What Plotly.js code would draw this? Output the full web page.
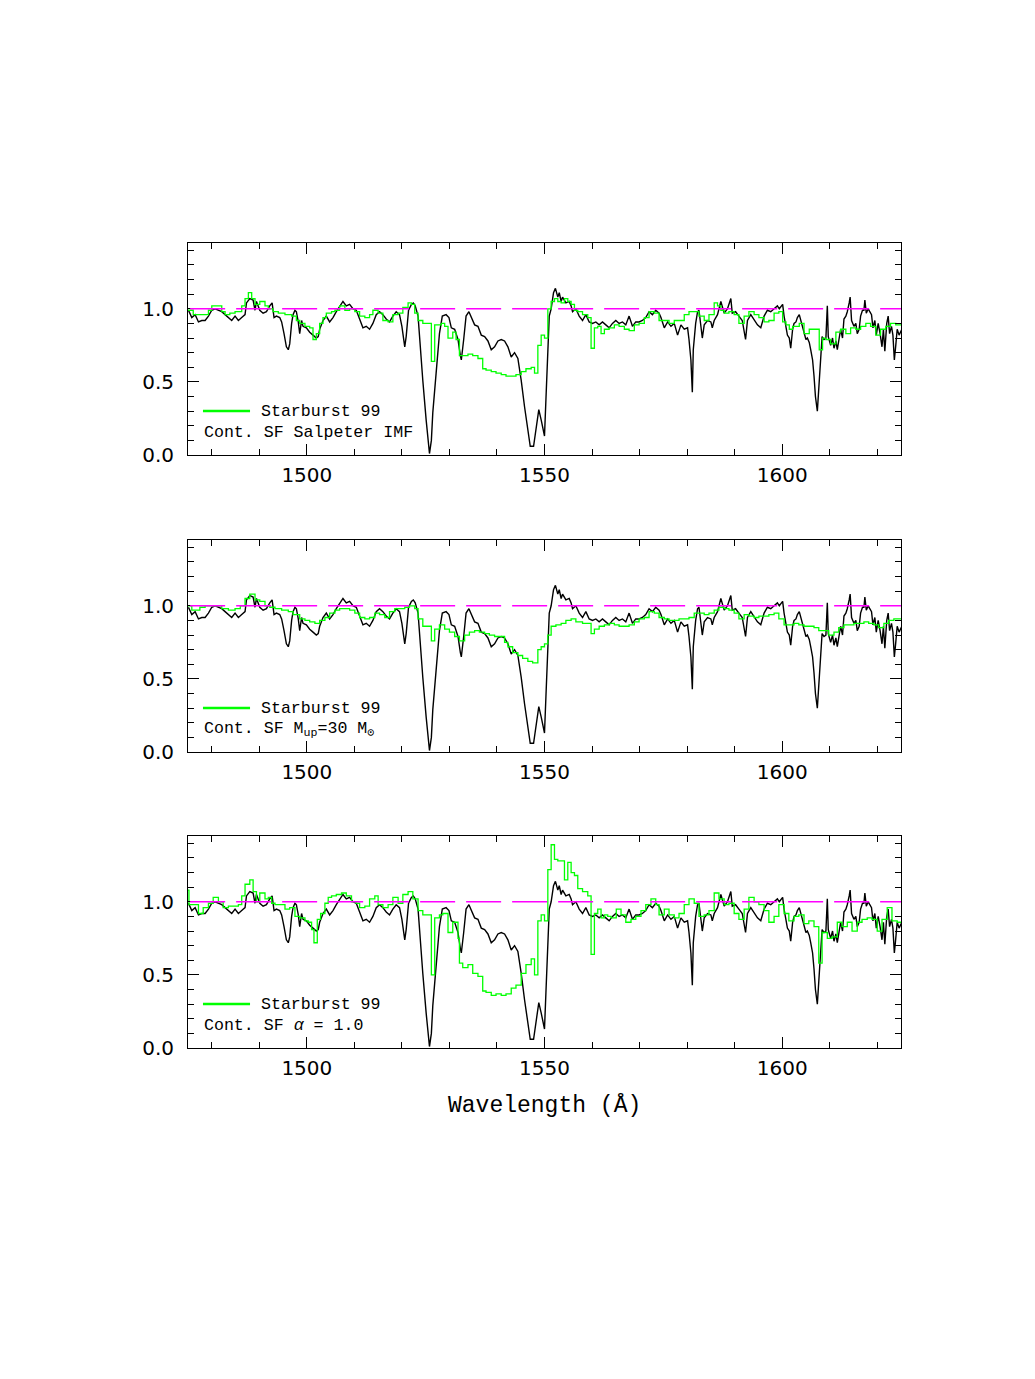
<!DOCTYPE html>
<html><head><meta charset="utf-8">
<script src="https://cdn.plot.ly/plotly-3.0.1.min.js"></script>
<style>body{margin:0;background:#fff}#chart{width:1035px;height:1379px}</style>
</head><body><div id="chart"></div><script>
// Observed spectrum (black)
const obsWave = [1475.1,1475.8,1476.5,1477.2,1477.9,1478.6,1479.3,1480.0,1480.7,1481.4,1482.1,1482.8,1483.5,1484.2,1484.9,1485.6,1486.3,1487.0,1487.3,1488.0,1488.7,1489.1,1489.4,1490.1,1490.8,1491.5,1492.2,1492.7,1493.1,1493.6,1494.3,1494.7,1495.2,1495.7,1496.1,1496.4,1496.8,1497.1,1497.5,1497.8,1498.2,1498.5,1498.9,1499.2,1499.9,1500.6,1501.3,1502.0,1502.4,1502.7,1503.4,1504.1,1504.8,1505.5,1506.2,1506.9,1507.6,1508.3,1509.0,1509.7,1510.4,1511.1,1511.8,1512.5,1513.2,1513.9,1514.6,1515.3,1516.0,1516.7,1517.4,1518.1,1518.8,1519.5,1520.0,1520.6,1520.9,1521.4,1522.0,1522.4,1522.8,1523.4,1523.7,1524.1,1524.4,1525.1,1525.8,1526.2,1526.5,1527.2,1527.9,1528.5,1529.3,1529.9,1530.4,1531.1,1531.8,1532.3,1532.5,1533.0,1533.5,1534.1,1534.6,1535.3,1536.0,1536.7,1537.4,1538.1,1538.8,1539.5,1540.2,1540.9,1541.6,1542.3,1543.0,1543.7,1544.4,1544.7,1545.1,1545.8,1546.5,1547.0,1547.7,1548.2,1548.8,1549.3,1550.0,1550.3,1550.7,1551.0,1551.4,1551.9,1552.3,1552.8,1553.1,1553.5,1553.8,1554.5,1555.2,1555.6,1555.9,1556.6,1557.3,1558.0,1558.7,1559.4,1560.1,1560.8,1561.5,1562.2,1562.9,1563.6,1564.3,1565.0,1565.7,1566.4,1567.1,1567.8,1568.5,1569.2,1569.9,1570.6,1571.3,1572.0,1572.7,1573.4,1574.1,1574.5,1575.2,1575.9,1576.6,1577.3,1578.0,1578.7,1579.4,1580.1,1580.4,1580.8,1581.1,1581.3,1581.8,1582.2,1582.5,1582.9,1583.2,1583.6,1584.3,1585.0,1585.3,1585.7,1586.4,1587.1,1587.4,1587.8,1588.5,1589.2,1589.5,1590.2,1590.9,1591.6,1592.3,1592.7,1593.4,1594.1,1594.8,1595.5,1596.2,1596.9,1597.6,1598.3,1599.0,1599.4,1600.1,1600.4,1600.8,1601.1,1601.5,1601.8,1602.2,1602.5,1602.9,1603.2,1603.6,1603.9,1604.3,1604.6,1605.0,1605.3,1605.7,1606.0,1606.4,1606.7,1607.0,1607.4,1607.7,1608.1,1608.4,1608.8,1609.2,1609.5,1609.7,1610.2,1610.6,1610.9,1611.3,1611.6,1612.0,1612.3,1612.7,1613.0,1613.4,1613.7,1614.1,1614.3,1614.6,1615.1,1615.5,1615.8,1616.2,1616.5,1616.9,1617.2,1617.4,1617.7,1618.1,1618.4,1618.8,1619.1,1619.5,1619.8,1620.2,1620.6,1621.0,1621.3,1621.6,1622.0,1622.3,1622.6,1623.0,1623.3,1623.6,1623.9,1624.2,1624.6,1625.2];
const obsFlux = [0.99,0.94,0.96,0.91,0.92,0.92,0.95,0.99,1.00,0.99,0.98,0.96,0.94,0.92,0.95,0.92,0.94,0.96,1.04,1.07,1.06,0.99,1.05,0.99,0.97,0.98,1.02,1.04,0.94,0.95,0.94,0.91,0.83,0.74,0.72,0.76,0.90,0.96,0.99,0.98,0.91,0.83,0.92,0.88,0.87,0.84,0.82,0.80,0.81,0.86,0.92,0.95,0.91,0.94,0.98,1.02,1.05,1.02,1.03,1.00,0.99,0.93,0.87,0.88,0.86,0.90,0.96,0.98,0.96,0.93,0.91,0.95,0.98,0.96,0.88,0.74,0.81,0.99,1.03,1.04,1.02,0.95,0.81,0.67,0.51,0.24,0.01,0.10,0.29,0.56,0.83,0.95,0.96,0.94,0.87,0.86,0.79,0.68,0.65,0.79,0.95,0.98,0.94,0.89,0.88,0.82,0.81,0.78,0.72,0.74,0.78,0.79,0.78,0.74,0.67,0.70,0.66,0.60,0.51,0.33,0.15,0.06,0.06,0.19,0.31,0.24,0.13,0.38,0.67,0.95,1.00,1.11,1.14,1.08,1.11,1.05,1.08,1.04,1.05,1.02,0.98,1.00,0.95,0.92,0.96,0.91,0.90,0.91,0.89,0.91,0.89,0.87,0.90,0.92,0.90,0.91,0.89,0.95,0.88,0.91,0.91,0.92,0.94,0.98,0.96,0.99,0.97,0.94,0.87,0.91,0.88,0.90,0.82,0.89,0.86,0.87,0.79,0.65,0.43,0.72,0.90,0.98,0.99,0.90,0.80,0.89,0.92,0.91,0.87,0.92,0.96,1.05,1.02,0.97,1.00,1.07,0.97,0.98,0.95,0.92,0.79,0.92,0.96,0.92,0.89,0.87,0.95,0.99,0.98,1.00,1.02,1.00,1.03,0.95,0.88,0.82,0.80,0.73,0.86,0.90,0.91,0.94,0.96,0.92,0.88,0.83,0.79,0.80,0.77,0.72,0.65,0.54,0.40,0.30,0.47,0.67,0.81,0.79,0.80,1.02,0.81,0.75,0.80,0.73,0.78,0.72,0.81,0.86,0.80,0.93,0.95,0.98,1.04,1.08,0.92,0.88,0.90,0.83,0.86,0.95,0.99,0.99,1.06,0.97,1.00,0.98,0.96,0.87,0.92,0.82,0.90,0.83,0.74,0.86,0.71,0.90,0.95,0.83,0.88,0.82,0.65,0.75,0.86,0.82,0.86];

// Starburst 99, continuous SF, Salpeter IMF (step starts)
const salpWave = [1475.0,1476.1,1479.3,1480.0,1482.1,1482.8,1483.8,1484.9,1486.3,1487.0,1487.7,1488.4,1489.1,1490.1,1491.2,1491.9,1492.9,1494.0,1495.4,1496.8,1497.8,1498.5,1499.6,1500.6,1501.3,1502.0,1502.7,1503.4,1504.1,1505.2,1505.9,1506.9,1508.0,1509.0,1510.1,1511.1,1512.2,1513.2,1513.9,1515.0,1516.0,1517.1,1518.1,1519.2,1520.2,1521.3,1522.0,1522.7,1523.4,1524.4,1526.2,1526.9,1528.3,1529.0,1529.7,1530.7,1531.4,1532.1,1533.9,1534.9,1536.0,1537.0,1537.7,1538.8,1539.8,1540.9,1541.9,1544.0,1545.1,1546.1,1547.2,1547.9,1548.6,1549.3,1550.0,1550.7,1551.4,1552.1,1552.8,1553.5,1554.2,1554.9,1555.6,1556.3,1557.0,1558.0,1559.1,1559.8,1560.5,1561.2,1561.9,1562.6,1563.6,1564.7,1565.7,1566.8,1567.8,1568.9,1569.9,1571.0,1572.0,1573.1,1574.1,1576.2,1577.3,1579.4,1580.4,1582.5,1583.6,1584.6,1585.7,1586.4,1587.1,1587.8,1588.8,1589.9,1590.9,1592.0,1593.0,1594.1,1595.1,1596.2,1597.2,1598.3,1599.3,1600.1,1600.8,1601.5,1602.2,1603.6,1604.6,1605.7,1606.7,1607.8,1608.5,1609.2,1610.2,1611.3,1612.3,1613.4,1614.4,1615.5,1616.5,1617.6,1618.6,1619.7,1620.7,1621.8,1622.8,1623.9];
const salpFlux = [0.99,0.96,0.99,1.02,0.98,0.96,0.97,0.98,1.02,1.07,1.11,1.07,1.03,1.05,1.02,1.00,0.98,0.97,0.96,0.95,0.92,0.90,0.88,0.87,0.79,0.83,0.90,0.94,0.97,0.98,0.99,1.02,0.99,1.00,0.98,0.95,0.94,0.96,0.99,0.97,0.92,0.91,0.96,0.97,1.01,1.04,1.03,0.97,0.92,0.90,0.64,0.89,0.90,0.88,0.80,0.84,0.79,0.68,0.69,0.68,0.66,0.59,0.58,0.57,0.56,0.55,0.54,0.55,0.57,0.59,0.60,0.56,0.75,0.82,0.80,1.00,1.05,1.07,1.05,1.04,1.07,1.05,1.03,0.99,0.98,0.96,0.94,0.73,0.87,0.88,0.83,0.86,0.87,0.89,0.88,0.86,0.85,0.89,0.90,0.94,0.98,0.97,0.92,0.90,0.92,0.96,0.98,0.95,0.92,0.96,1.04,1.02,0.99,0.97,0.98,0.96,0.90,0.95,0.98,0.96,0.94,0.91,0.92,0.97,0.98,0.91,0.89,0.86,0.88,0.90,0.83,0.86,0.86,0.72,0.80,0.79,0.76,0.84,0.86,0.83,0.87,0.86,0.88,0.90,0.88,0.82,0.86,0.88,0.90,0.89];

// Starburst 99, continuous SF, M_up = 30 Msun
const mupWave = [1475.0,1475.8,1477.5,1478.6,1482.1,1483.5,1484.9,1486.0,1487.0,1488.0,1489.1,1490.1,1491.2,1492.2,1493.3,1494.7,1496.1,1497.1,1498.5,1499.6,1500.6,1501.7,1502.7,1503.8,1504.8,1505.9,1506.9,1508.0,1509.0,1510.1,1511.1,1512.2,1513.2,1514.3,1515.3,1516.4,1517.4,1518.5,1519.5,1520.6,1521.6,1522.7,1523.4,1524.4,1526.2,1526.9,1527.9,1529.0,1530.0,1531.1,1532.1,1533.2,1534.2,1535.3,1536.3,1537.4,1538.4,1539.5,1540.5,1541.6,1542.3,1543.3,1544.4,1545.4,1546.5,1547.5,1548.6,1549.3,1550.0,1550.7,1551.4,1552.4,1553.5,1554.5,1555.6,1556.6,1558.0,1559.8,1560.5,1561.5,1562.6,1563.6,1564.7,1565.7,1566.8,1567.8,1568.9,1569.9,1571.0,1572.0,1573.1,1574.1,1575.2,1576.2,1578.3,1579.4,1580.4,1581.5,1582.5,1583.6,1584.6,1585.7,1586.7,1587.8,1588.8,1589.9,1590.9,1592.0,1593.0,1594.1,1595.1,1596.2,1597.2,1598.3,1599.3,1600.4,1601.4,1602.5,1603.5,1604.6,1605.6,1606.7,1607.7,1608.8,1609.8,1610.9,1611.9,1613.0,1614.0,1615.1,1617.2,1618.2,1619.3,1620.3,1621.4,1622.4,1623.5];
const mupFlux = [1.00,0.97,0.99,1.00,0.98,0.97,0.98,1.00,1.05,1.08,1.04,1.03,1.00,0.99,0.98,0.97,0.96,0.94,0.91,0.90,0.89,0.88,0.90,0.92,0.95,0.97,0.98,0.98,0.97,0.95,0.92,0.91,0.92,0.95,0.94,0.92,0.96,0.98,0.98,0.99,1.00,0.98,0.91,0.86,0.76,0.84,0.87,0.84,0.82,0.79,0.76,0.80,0.82,0.83,0.82,0.81,0.80,0.79,0.79,0.75,0.72,0.68,0.66,0.64,0.62,0.61,0.70,0.72,0.74,0.80,0.86,0.87,0.88,0.90,0.91,0.89,0.88,0.81,0.84,0.86,0.87,0.88,0.87,0.86,0.86,0.87,0.89,0.91,0.92,0.96,0.95,0.92,0.91,0.90,0.91,0.91,0.92,0.95,0.95,0.94,0.95,0.97,0.99,0.98,0.97,0.95,0.91,0.94,0.93,0.92,0.93,0.93,0.94,0.95,0.91,0.87,0.87,0.88,0.87,0.86,0.86,0.85,0.83,0.83,0.80,0.82,0.85,0.87,0.87,0.88,0.89,0.88,0.87,0.85,0.88,0.90,0.91];

// Starburst 99, continuous SF, alpha = 1.0
const alphaWave = [1475.0,1475.2,1476.1,1477.2,1478.2,1479.3,1480.3,1481.4,1482.4,1483.5,1485.6,1486.3,1487.0,1488.0,1488.7,1489.4,1490.1,1491.2,1491.9,1492.6,1493.3,1495.4,1496.4,1497.5,1498.5,1499.6,1500.3,1501.0,1501.5,1502.2,1502.9,1503.8,1504.5,1505.2,1506.2,1507.3,1508.3,1509.4,1510.4,1511.1,1512.2,1513.2,1514.3,1515.0,1516.0,1517.1,1518.1,1519.2,1520.2,1521.3,1522.3,1523.4,1524.4,1526.2,1526.9,1527.9,1528.6,1529.7,1530.7,1531.8,1532.1,1532.8,1533.9,1534.9,1536.0,1537.0,1537.7,1538.8,1539.8,1540.9,1541.9,1543.0,1544.0,1545.1,1546.1,1547.2,1547.9,1548.6,1549.3,1550.0,1550.7,1551.4,1552.1,1552.8,1554.2,1554.9,1555.6,1556.3,1557.0,1558.0,1559.1,1559.8,1560.5,1561.2,1561.9,1562.6,1563.3,1564.0,1565.1,1566.1,1567.1,1568.2,1569.2,1570.3,1571.3,1572.4,1573.4,1574.1,1575.2,1576.2,1577.3,1578.3,1579.4,1580.4,1581.5,1582.5,1583.6,1584.6,1585.7,1586.7,1587.8,1588.8,1589.9,1590.9,1592.0,1593.0,1594.1,1595.1,1596.2,1597.2,1598.3,1599.3,1600.4,1601.4,1602.5,1603.5,1604.6,1605.6,1606.7,1607.7,1608.4,1609.5,1610.5,1611.6,1612.6,1613.7,1614.7,1615.8,1616.8,1617.9,1618.9,1620.0,1621.0,1622.1,1623.1,1624.2];
const alphaFlux = [1.08,0.98,0.98,0.92,0.96,0.99,1.03,1.00,0.96,0.97,0.98,1.04,1.12,1.15,1.07,1.00,1.06,1.02,1.03,0.99,0.98,0.95,0.96,0.90,0.89,0.87,0.86,0.81,0.72,0.88,0.92,0.99,1.03,1.04,1.05,1.06,1.04,1.00,0.99,0.96,0.97,1.02,1.04,0.98,0.96,0.98,1.03,0.99,1.05,1.07,1.02,0.94,0.91,0.50,0.89,0.91,0.92,0.79,0.86,0.75,0.58,0.55,0.57,0.51,0.49,0.39,0.38,0.36,0.37,0.36,0.37,0.41,0.43,0.51,0.57,0.61,0.50,0.87,0.91,0.87,1.22,1.39,1.29,1.28,1.15,1.27,1.20,1.18,1.09,1.07,1.04,0.64,0.92,0.95,0.89,0.91,0.90,0.89,0.95,0.91,0.86,0.88,0.90,0.94,0.98,1.02,0.98,0.91,0.95,0.91,0.89,0.92,0.98,1.02,0.99,0.90,0.91,0.94,1.06,1.02,0.98,0.99,0.92,0.88,0.95,1.03,1.00,0.98,0.94,0.86,0.90,0.98,0.92,0.87,0.90,0.91,0.85,0.87,0.83,0.58,0.79,0.75,0.76,0.86,0.83,0.86,0.80,0.86,0.88,0.89,0.88,0.80,0.88,0.96,0.87,0.86];

const xTicks = [1500, 1550, 1600];
const yTicks = [0.0, 0.5, 1.0];
const xRange = [1475, 1625];
const yRange = [0, 1.45];
const continuumLevel = 1.0;
const legendLine1 = 'Starburst 99';
const legendLine2 = ['Cont. SF Salpeter IMF', 'Cont. SF M<sub>up</sub>=30 M<sub>⊙</sub>', 'Cont. SF <i>α</i> = 1.0'];
const models = [[salpWave, salpFlux], [mupWave, mupFlux], [alphaWave, alphaFlux]];
const xTitle = 'Wavelength (Å)';

const W = 1035, H = 1379;
const xDom = [188 / W, 901 / W];
const panelPx = [[243, 455], [540, 752], [836, 1048]];
const traces = [], shapes = [], annotations = [];
const layout = {
  width: W, height: H, margin: {l: 0, r: 0, t: 0, b: 0},
  paper_bgcolor: '#fff', plot_bgcolor: '#fff', showlegend: false,
  shapes: shapes, annotations: annotations
};
const tickFont = {family: 'DejaVu Sans', size: 20, color: '#000'};
const monoFam = 'Liberation Mono, DejaVu Sans Mono, monospace';
const textFont = {family: monoFam, size: 16.6, color: '#000'};

panelPx.forEach((p, i) => {
  const n = i + 1, sfx = n === 1 ? '' : String(n);
  const xa = 'x' + sfx, ya = 'y' + sfx;
  layout['xaxis' + sfx] = {
    domain: xDom, range: xRange, anchor: ya, showgrid: false, zeroline: false,
    showline: true, linecolor: '#000', linewidth: 1, mirror: 'allticks',
    ticks: 'inside', ticklen: 11, tickwidth: 1, tickcolor: '#000',
    tickvals: xTicks, ticktext: xTicks.map(String), tickfont: tickFont, ticklabelstandoff: 2,
    minor: {ticks: 'inside', dtick: 10, tick0: 1480, ticklen: 6, tickwidth: 1, tickcolor: '#000', showgrid: false}
  };
  layout['yaxis' + sfx] = {
    domain: [(H - p[1]) / H, (H - p[0]) / H], range: yRange, anchor: xa,
    showgrid: false, zeroline: false, showline: true, linecolor: '#000', linewidth: 1, mirror: 'allticks',
    ticks: 'inside', ticklen: 11, tickwidth: 1, tickcolor: '#000',
    tickvals: yTicks, ticktext: yTicks.map(v => v.toFixed(1)), tickfont: tickFont, ticklabelstandoff: 9,
    minor: {ticks: 'inside', dtick: 0.1, tick0: 0, ticklen: 6, tickwidth: 1, tickcolor: '#000', showgrid: false}
  };
  traces.push({x: obsWave, y: obsFlux, xaxis: xa, yaxis: ya, mode: 'lines',
    line: {color: '#000', width: 1.4}, hoverinfo: 'skip'});
  const mw = models[i][0].concat([xRange[1]]);
  const mf = models[i][1].concat([models[i][1][models[i][1].length - 1]]);
  traces.push({x: mw, y: mf, xaxis: xa, yaxis: ya, mode: 'lines',
    line: {color: '#00ff00', width: 1.3, shape: 'hv'}, hoverinfo: 'skip'});
  shapes.push({type: 'line', xref: xa + ' domain', yref: ya, x0: 0.003, x1: 1, y0: continuumLevel, y1: continuumLevel,
    line: {color: '#ff00ff', width: 1.5, dash: '35px,11px'}, layer: 'above'});
  shapes.push({type: 'line', xref: xa + ' domain', yref: ya + ' domain', x0: 0.021, x1: 0.087, y0: 0.2075, y1: 0.2075,
    line: {color: '#00ff00', width: 2.5}, layer: 'above'});
  annotations.push({xref: xa + ' domain', yref: ya + ' domain', x: 0.099, y: 0.2075, xanchor: 'left', yanchor: 'middle',
    text: legendLine1, showarrow: false, font: textFont});
  annotations.push({xref: xa + ' domain', yref: ya + ' domain', x: 0.019, y: 0.108, xanchor: 'left', yanchor: 'middle',
    text: legendLine2[i], showarrow: false, font: textFont});
});
annotations.push({xref: 'paper', yref: 'paper', x: 544.5 / W, y: (H - 1105) / H, xanchor: 'center', yanchor: 'middle',
  text: xTitle, showarrow: false, font: {family: monoFam, size: 23, color: '#000'}});

Plotly.newPlot('chart', traces, layout, {staticPlot: true, displayModeBar: false});
</script></body></html>
